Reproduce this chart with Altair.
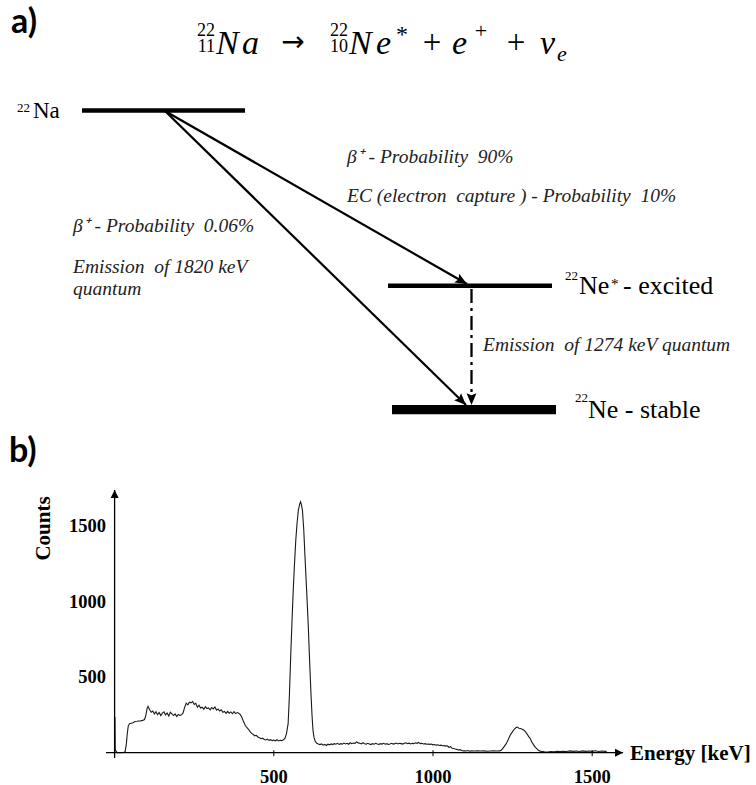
import math
import altair as alt
import pandas as pd

# ---------------- spectrum ----------------
energy_kev = [0, 1, 2, 5, 8, 18, 28, 33, 37, 40, 43, 47, 52, 58, 64, 70, 76, 82, 88, 94, 98, 102, 105,
              110, 115, 120, 125, 130, 135, 140, 145, 150, 155, 160, 165, 170, 175, 180, 185, 190, 195,
              200, 205, 210, 215, 220, 225, 230, 235, 240, 245, 250, 255, 260, 265, 270, 275, 280, 285,
              290, 295, 300, 305, 310, 315, 320, 325, 330, 335, 340, 345, 350, 355, 360, 365, 370, 375,
              380, 385, 390, 395, 400, 405, 410, 415, 420, 425, 430, 435, 440, 445, 450, 455, 460, 465,
              470, 475, 480, 485, 490, 495, 500, 505, 510, 515, 520, 525, 530, 535, 540, 545, 549, 553,
              557, 561, 565, 569, 573, 577, 581, 584, 587, 590, 594, 598, 603, 608, 613, 617, 620, 623,
              626, 630, 635, 640, 645, 650, 655, 660, 665, 670, 675, 680, 685, 690, 695, 700, 705, 710,
              715, 720, 725, 730, 735, 740, 745, 750, 755, 760, 765, 770, 775, 780, 785, 790, 795, 800,
              805, 810, 815, 820, 825, 830, 835, 840, 845, 850, 855, 860, 865, 870, 875, 880, 885, 890,
              895, 900, 905, 910, 915, 920, 925, 930, 935, 940, 945, 950, 955, 960, 965, 970, 975, 980,
              985, 990, 995, 1000, 1005, 1010, 1015, 1020, 1025, 1030, 1035, 1040, 1045, 1050, 1055,
              1060, 1065, 1070, 1075, 1080, 1085, 1090, 1095, 1100, 1105, 1110, 1115, 1120, 1130, 1140,
              1150, 1160, 1170, 1180, 1190, 1200, 1210, 1215, 1220, 1225, 1230, 1235, 1240, 1245, 1250,
              1255, 1260, 1265, 1270, 1275, 1280, 1285, 1290, 1295, 1300, 1305, 1310, 1315, 1320, 1325,
              1330, 1335, 1340, 1345, 1350, 1360, 1370, 1380, 1390, 1400, 1410, 1420, 1430, 1440, 1450,
              1460, 1470, 1480, 1490, 1500, 1510, 1520, 1530, 1540, 1546]
counts = [0, 236, 18, 10, 0, 0, 1, 6, 60, 130, 178, 192, 195, 199, 207, 208, 210, 211, 214, 220, 245, 292, 307,
          284, 268, 276, 257, 271, 252, 266, 246, 262, 270, 250, 263, 243, 268, 257, 246, 257, 240,
          253, 247, 251, 263, 300, 328, 317, 335, 330, 339, 320, 327, 302, 315, 296, 301, 288, 305,
          292, 296, 284, 299, 290, 303, 282, 290, 276, 284, 268, 273, 260, 274, 262, 270, 258, 272,
          259, 266, 261, 252, 233, 206, 182, 167, 157, 141, 128, 122, 112, 115, 104, 99, 93, 96,
          88, 84, 90, 82, 86, 80, 84, 79, 86, 78, 82, 80, 86, 94, 128, 192, 380, 633,
          860, 1075, 1250, 1406, 1520, 1604, 1645, 1662, 1640, 1604, 1480, 1296, 1080, 854, 580, 380, 250, 150,
          103, 76, 63, 58, 54, 58, 50, 55, 48, 56, 52, 58, 54, 60, 56, 62, 55, 60,
          57, 64, 58, 62, 56, 66, 60, 64, 62, 72, 65, 62, 58, 66, 60, 56, 62, 58,
          54, 60, 56, 62, 58, 55, 60, 57, 62, 56, 60, 55, 58, 62, 57, 60, 64, 58,
          62, 60, 57, 62, 66, 60, 63, 58, 62, 60, 66, 62, 68, 60, 62, 58, 60, 56,
          58, 55, 57, 52, 54, 50, 52, 48, 50, 46, 48, 44, 46, 36, 40,
          30, 28, 24, 22, 18, 20, 14, 12, 13, 11, 14, 10, 12, 11, 13,
          11, 12, 10, 11, 12, 11, 12, 18, 30, 45, 60, 80, 105, 125, 140,
          155, 165, 170, 162, 160, 155, 150, 140, 125, 108, 95, 72, 55, 40, 29,
          18, 12, 8, 7, 6, 5, 8, 6, 9, 7, 10, 8, 12, 9, 11,
          8, 12, 9, 11, 9, 13, 8, 11, 9, 10]

x_ticks = [500, 1000, 1500]
x_tick_labels = ["500", "1000", "1500"]
y_ticks = [500, 1000, 1500]
y_tick_labels = ["500", "1000", "1500"]

# ---------------- decay scheme (diagram content) ----------------
level_names = ["22Na", "22Ne*", "22Ne"]

# ---------------- layout ----------------
W = 756
H_TOP = 440
H_BOT = 345

# diagram geometry (pixel layout of the schematic)
levels_layout = pd.DataFrame({
    "name": level_names,
    "x": [82, 388, 392], "x2": [245, 552, 556],
    "y": [110.5, 285.7, 409.7], "w": [4.3, 4.5, 9.3],
})
start = (165, 111)
arrow_tips = [(467, 284), (466, 405)]
gamma_x, gamma_y1, gamma_tip = 471.5, 289, 405

PX = alt.Scale(domain=[0, W], nice=False, zero=False)
PY = alt.Scale(domain=[H_TOP, 0], nice=False, zero=False)
ARROW = "M0,0 L-1,-0.42 L-0.82,0 L-1,0.42 Z"


def ex(f="x"):
    return alt.X(f"{f}:Q", scale=PX, axis=None)


def ey(f="y"):
    return alt.Y(f"{f}:Q", scale=PY, axis=None)


levels = alt.Chart(levels_layout).mark_rule(color="black", strokeCap="butt").encode(
    x=ex(), x2="x2:Q", y=ey(), strokeWidth=alt.StrokeWidth("w:Q", scale=None)
)

arrows_df = pd.DataFrame({
    "x": [start[0]] * 2, "y": [start[1]] * 2,
    "x2": [t[0] for t in arrow_tips], "y2": [t[1] for t in arrow_tips],
})
arrow_lines = alt.Chart(arrows_df).mark_rule(color="black", strokeWidth=2.2).encode(
    x=ex(), y=ey(), x2="x2:Q", y2="y2:Q"
)
gamma_df = pd.DataFrame({"x": [gamma_x], "y": [gamma_y1], "y2": [gamma_tip - 4]})
gamma_line = alt.Chart(gamma_df).mark_rule(
    color="black", strokeWidth=2.3, strokeDash=[14, 5, 3, 5], strokeCap="butt"
).encode(x=ex(), y=ey(), y2="y2:Q")

heads_df = pd.DataFrame({
    "x": [t[0] for t in arrow_tips] + [gamma_x],
    "y": [t[1] for t in arrow_tips] + [gamma_tip],
    "ang": [math.degrees(math.atan2(t[1] - start[1], t[0] - start[0])) for t in arrow_tips] + [90],
})
heads = alt.Chart(heads_df).mark_point(
    shape=ARROW, filled=True, color="black", opacity=1, size=560
).encode(x=ex(), y=ey(), angle=alt.Angle("ang:Q", scale=None))


def texts(rows, **props):
    df = pd.DataFrame(rows, columns=["t", "x", "y"])
    props.setdefault("baseline", "alphabetic")
    props.setdefault("color", "black")
    return alt.Chart(df).mark_text(**props).encode(x=ex(), y=ey(), text="t:N")


SERIF = "Liberation Serif"

top_layers = [
    levels, arrow_lines, gamma_line, heads,
    # panel label
    texts([["a)", 11, 33]], align="left", font="Lato", fontSize=34, fontWeight="bold"),
    # equation: 22/11 Na -> 22/10 Ne* + e+ + nu_e
    texts([["22", 215, 35.5], ["22", 348, 35.5]], align="right", font=SERIF, fontSize=18),
    texts([["11", 215, 56], ["10", 348, 56]], align="right", font=SERIF, fontSize=18, baseline="bottom"),
    texts([["N", 216, 54], ["a", 242, 54], ["N", 349, 54], ["e", 376, 54],
           ["e", 452, 54], ["ν", 540, 54]],
          align="left", font=SERIF, fontSize=34, fontStyle="italic"),
    texts([["→", 293, 51]], align="center", font="DejaVu Sans", fontSize=28),
    texts([["+", 432, 53], ["+", 516, 53]], align="center", font=SERIF, fontSize=33),
    texts([["*", 396, 42]], align="left", font=SERIF, fontSize=24),
    texts([["+", 481, 38]], align="center", font=SERIF, fontSize=22),
    texts([["e", 557, 61]], align="left", font=SERIF, fontSize=22, fontStyle="italic"),
    # level labels
    texts([["22", 17, 112], ["22", 565, 280], ["22", 575, 402]], align="left", font=SERIF, fontSize=13),
    texts([["Na", 33, 118]], align="left", font=SERIF, fontSize=23),
    texts([["Ne", 579, 294], ["- excited", 623, 294], ["Ne - stable", 588, 418]],
          align="left", font=SERIF, fontSize=26),
    texts([["*", 611, 289]], align="left", font=SERIF, fontSize=15),
    # italic annotations
    texts([["β⁺ - Probability\u00a0 0.06%", 73, 232],
           ["Emission\u00a0 of 1820 keV", 73, 273],
           ["quantum", 73, 295],
           ["β⁺ - Probability\u00a0 90%", 347, 163],
           ["EC (electron\u00a0 capture ) - Probability\u00a0 10%", 347, 202],
           ["Emission\u00a0 of 1274 keV quantum", 483, 351]],
          align="left", font=SERIF, fontSize=19.5, fontStyle="italic", color="#222222"),
]
top = alt.layer(*top_layers).properties(width=W, height=H_TOP)

# ---------------- bottom: spectrum ----------------
X0_PX, PX_PER_KEV = 114.6, 0.3184
BASE_PX, PX_PER_COUNT = 312.7, 0.151
SX = alt.Scale(domain=[-X0_PX / PX_PER_KEV, (W - X0_PX) / PX_PER_KEV], nice=False, zero=False)
SY = alt.Scale(domain=[-(H_BOT - BASE_PX) / PX_PER_COUNT, BASE_PX / PX_PER_COUNT], nice=False, zero=False)


def bx(f="E"):
    return alt.X(f"{f}:Q", scale=SX, axis=None)


def by(f="C"):
    return alt.Y(f"{f}:Q", scale=SY, axis=None)


spec_df = pd.DataFrame({"E": energy_kev, "C": counts})
spectrum = alt.Chart(spec_df).mark_line(color="#1a1a1a", strokeWidth=1.1, interpolate="linear").encode(
    x=bx(), y=by()
)

# axis extents (in data units)
x_axis_df = pd.DataFrame({"E": [-27], "E2": [1597], "C": [0]})
x_axis = alt.Chart(x_axis_df).mark_rule(color="black", strokeWidth=1.3).encode(x=bx(), x2="E2:Q", y=by())
y_axis_df = pd.DataFrame({"E": [0], "C": [-35], "C2": [1740]})
y_axis = alt.Chart(y_axis_df).mark_rule(color="black", strokeWidth=1.3).encode(x=bx(), y=by(), y2="C2:Q")
ax_heads_df = pd.DataFrame({"E": [1597, 0], "C": [0, 1740], "ang": [0, 270]})
ax_heads = alt.Chart(ax_heads_df).mark_point(
    shape="M0,0 L-1,-0.5 L-1,0.5 Z", filled=True, color="black", opacity=1, size=256
).encode(x=bx(), y=by(), angle=alt.Angle("ang:Q", scale=None))

ticks_df = pd.DataFrame({"E": x_ticks, "lab": x_tick_labels})
x_tick_marks = alt.Chart(ticks_df).mark_rule(color="black", strokeWidth=1).encode(
    x=bx(), y=alt.value(BASE_PX - 2.5), y2=alt.value(BASE_PX + 3.5)
)
x_tick_text = alt.Chart(ticks_df).mark_text(
    font=SERIF, fontSize=18.5, fontWeight="bold", align="center", baseline="middle", color="black"
).encode(x=bx(), y=alt.value(336.5), text="lab:N")

yticks_df = pd.DataFrame({"C": y_ticks, "lab": y_tick_labels})
y_tick_text = alt.Chart(yticks_df).mark_text(
    font=SERIF, fontSize=18.5, fontWeight="bold", align="right", baseline="middle", color="black"
).encode(x=alt.value(106), y=by(), text="lab:N")

y_title = alt.Chart(pd.DataFrame({"t": ["Counts"]})).mark_text(
    font=SERIF, fontSize=21, fontWeight="bold", angle=270, align="center", baseline="alphabetic",
    color="black"
).encode(x=alt.value(50), y=alt.value(88.5), text="t:N")
x_title = alt.Chart(pd.DataFrame({"t": ["Energy [keV]"]})).mark_text(
    font=SERIF, fontSize=21, fontWeight="bold", align="left", baseline="alphabetic", color="black"
).encode(x=alt.value(630), y=alt.value(320), text="t:N")
b_label = alt.Chart(pd.DataFrame({"t": ["b)"]})).mark_text(
    font="Lato", fontSize=34, fontWeight="bold", align="left", baseline="alphabetic", color="black"
).encode(x=alt.value(9), y=alt.value(22), text="t:N")

bottom = alt.layer(
    spectrum, x_axis, y_axis, ax_heads, x_tick_marks, x_tick_text, y_tick_text, y_title, x_title, b_label
).properties(width=W, height=H_BOT)

chart = alt.vconcat(top, bottom, spacing=0, bounds="flush").properties(
    padding=0, background="white"
).configure_view(stroke=None)

chart.save("out.html", embed_options={"renderer": "svg", "actions": False})
